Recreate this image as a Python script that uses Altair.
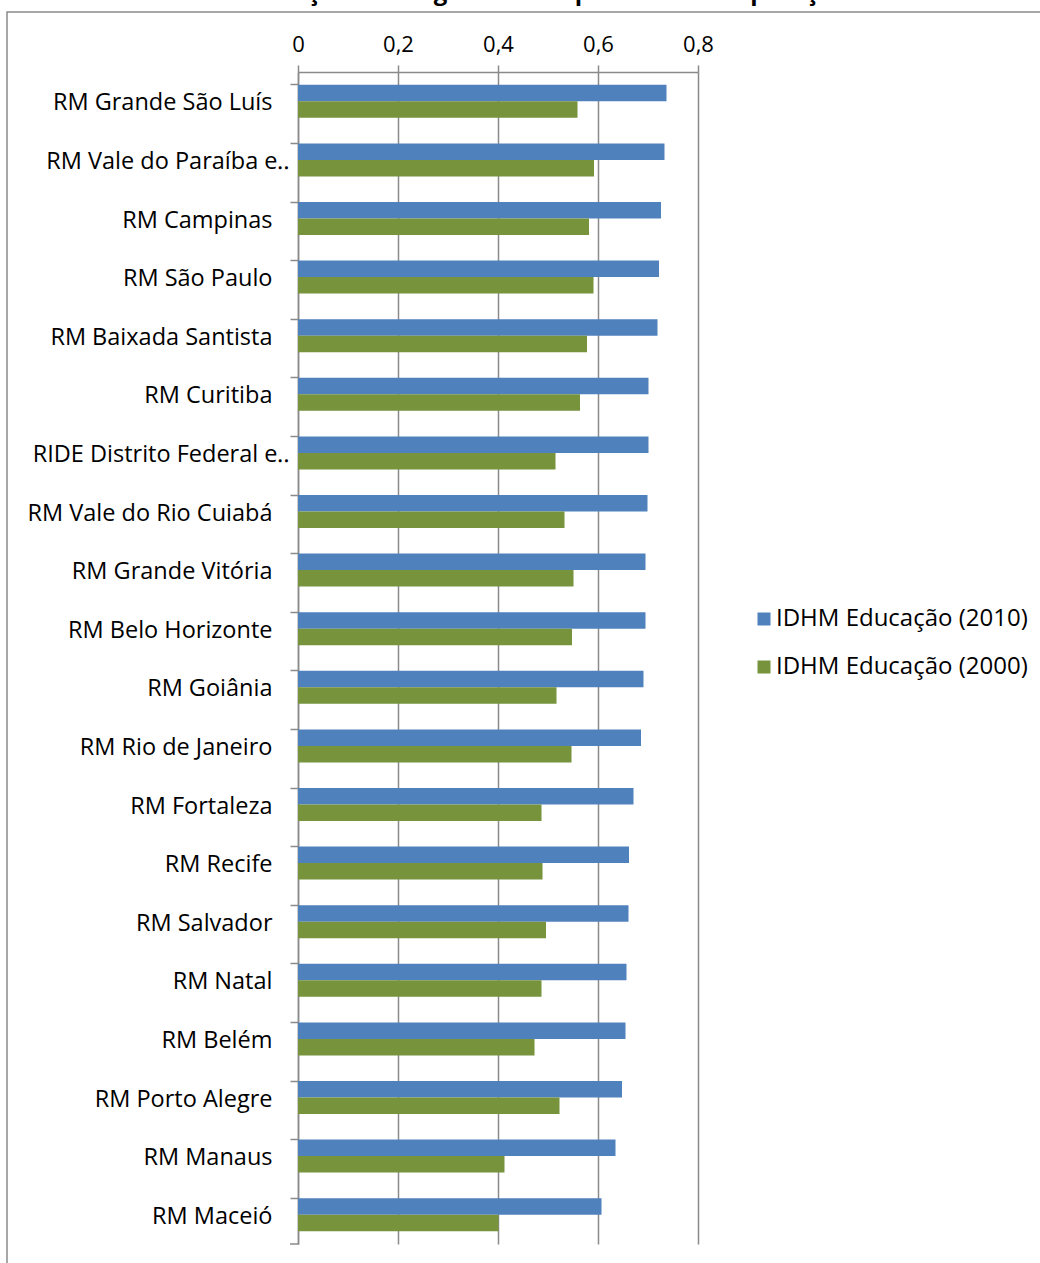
import altair as alt
import pandas as pd

# Regiões metropolitanas, ordenadas pelo IDHM Educação de 2010
regioes = [
    "RM Grande São Luís",
    "RM Vale do Paraíba e‥",
    "RM Campinas",
    "RM São Paulo",
    "RM Baixada Santista",
    "RM Curitiba",
    "RIDE Distrito Federal e‥",
    "RM Vale do Rio Cuiabá",
    "RM Grande Vitória",
    "RM Belo Horizonte",
    "RM Goiânia",
    "RM Rio de Janeiro",
    "RM Fortaleza",
    "RM Recife",
    "RM Salvador",
    "RM Natal",
    "RM Belém",
    "RM Porto Alegre",
    "RM Manaus",
    "RM Maceió",
]
idhm_2010 = [0.737, 0.733, 0.726, 0.722, 0.719, 0.701, 0.701, 0.699, 0.695, 0.695,
             0.691, 0.686, 0.671, 0.662, 0.661, 0.657, 0.655, 0.648, 0.635, 0.607]
idhm_2000 = [0.559, 0.592, 0.582, 0.591, 0.578, 0.564, 0.515, 0.533, 0.551, 0.548,
             0.517, 0.547, 0.487, 0.489, 0.496, 0.487, 0.473, 0.523, 0.413, 0.401]

series = ["IDHM Educação (2010)", "IDHM Educação (2000)"]
cores = ["#4F81BD", "#77933C"]
ticks_x = [0, 0.2, 0.4, 0.6, 0.8]
titulo = "Educação nas Regiões Metropolitanas: comparação"

FONT = "Open Sans"
FS = 23.5
CINZA = "#8A8A8A"
W, H = 400, 1172

df = pd.DataFrame({
    "regiao": regioes * 2,
    "serie": [series[0]] * len(regioes) + [series[1]] * len(regioes),
    "valor": idhm_2010 + idhm_2000,
})

bars = alt.Chart(df).mark_bar().encode(
    x=alt.X(
        "valor:Q",
        scale=alt.Scale(domain=[0, 0.8], nice=False, zero=True),
        axis=alt.Axis(
            orient="top", values=ticks_x, title=None, labelFlush=False,
            labelExpr="replace(format(datum.value, '.1~f'), '.', ',')",
            labelFont=FONT, labelFontSize=22, labelColor="black", labelPadding=9,
            domainColor=CINZA, domainWidth=1.5,
            tickColor=CINZA, tickWidth=1.5, tickSize=7,
            grid=True, gridColor=CINZA, gridWidth=1.5,
        ),
    ),
    y=alt.Y(
        "regiao:N", sort=regioes,
        scale=alt.Scale(paddingInner=0.437, paddingOuter=0.2185),
        axis=alt.Axis(
            title=None, bandPosition=0, grid=False,
            labelFont=FONT, labelFontSize=FS, labelColor="black",
            # shortened names run up to the tick marks
            labelPadding={"condition": {"test": "indexof(datum.value, '‥') >= 0", "value": 0},
                          "value": 18},
            labelLimit=0, labelOffset=2,
            domainColor=CINZA, domainWidth=1.5,
            tickColor=CINZA, tickWidth=1.5, tickSize=8,
        ),
    ),
    yOffset=alt.YOffset("serie:N", sort=series),
    color=alt.Color(
        "serie:N", sort=series,
        scale=alt.Scale(domain=series, range=cores),
        legend=alt.Legend(
            title=None, orient="none", legendX=454, legendY=535,
            symbolType="square", symbolSize=169, symbolStrokeWidth=0,
            labelFont=FONT, labelFontSize=24, labelColor="black", labelLimit=0,
            labelOffset=0, rowPadding=24, padding=0,
        ),
    ),
)

# last category tick closing the axis at the bottom
tick_final = alt.Chart(pd.DataFrame({"k": [0]})).mark_rule(
    color=CINZA, strokeWidth=1.5
).encode(x=alt.value(-8), x2=alt.value(0), y=alt.value(H))

# outer chart-area frame
moldura = alt.Chart(pd.DataFrame({"k": [0]})).mark_rect(
    fillOpacity=0, stroke=CINZA, strokeWidth=1.5
).encode(x=alt.value(-291), x2=alt.value(900), y=alt.value(-60), y2=alt.value(H + 200))

# chart title, sitting at the very top edge
texto_titulo = alt.Chart(pd.DataFrame({"t": [titulo]})).mark_text(
    font=FONT, fontSize=24, fontWeight="bold", align="left", baseline="alphabetic", color="black"
).encode(text="t:N", x=alt.value(-62), y=alt.value(-72))

chart = alt.layer(moldura, bars, tick_final, texto_titulo).properties(
    width=W, height=H,
    autosize=alt.AutoSizeParams(type="none"),
    padding={"left": 298, "top": 72, "right": 342, "bottom": 19},
).configure_view(stroke=None)

chart.save("out.html", embed_options={"renderer": "svg", "actions": False})
